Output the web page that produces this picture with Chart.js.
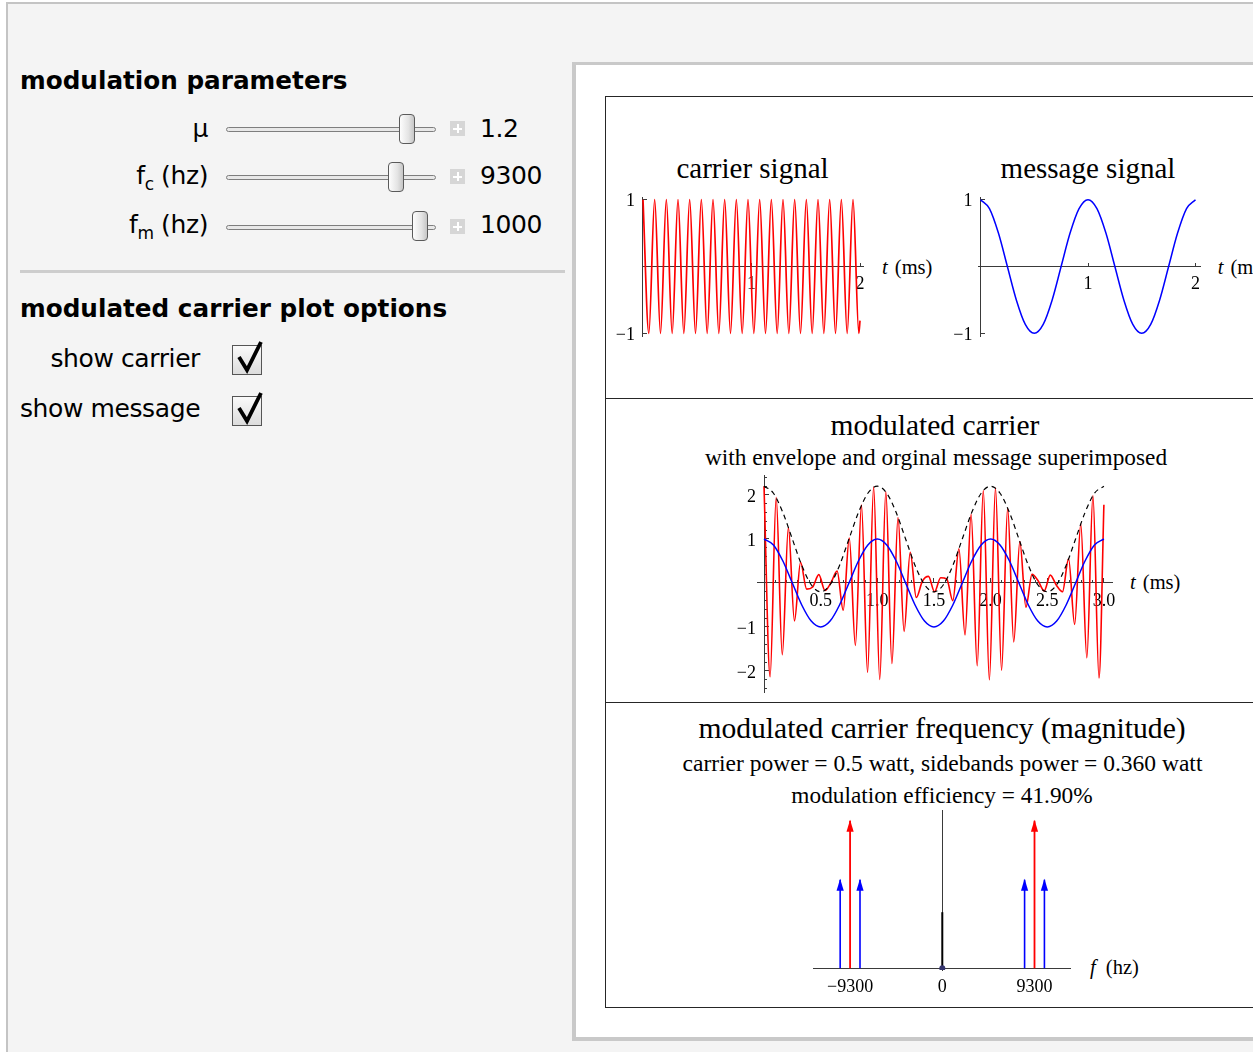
<!DOCTYPE html>
<html>
<head>
<meta charset="utf-8">
<title>amplitude modulation</title>
<script src="https://cdn.jsdelivr.net/npm/chart.js@4.4.1/dist/chart.umd.min.js"></script>
<style>
  html, body { margin: 0; padding: 0; }
  body { position: relative; width: 1253px; height: 1052px; overflow: hidden; background: #fff; }
  .abs { position: absolute; box-sizing: border-box; }
  .frame { left: 6px; top: 2px; width: 1300px; height: 1100px; border-left: 2px solid #c4c4c4; border-top: 2px solid #c4c4c4; background: #f4f4f4; }
  .ui { position: absolute; font-family: "DejaVu Sans", sans-serif; font-size: 25px; line-height: 1; white-space: nowrap; letter-spacing: -0.4px; color: #000; }
  .head { font-weight: bold; font-size: 24.7px; letter-spacing: 0; left: 20px; }
  .lbl { left: 60px; width: 148px; text-align: right; }
  .val { left: 480px; }
  .sub { font-size: 17px; position: relative; top: 6px; }
  .track { position: absolute; left: 226px; width: 210px; height: 5px; box-sizing: border-box; border: 1px solid #7e7e7e; border-radius: 3px; background: #e8e8e8; }
  .thumb { position: absolute; width: 16px; height: 30px; box-sizing: border-box; border: 1px solid #5a5a5a; border-radius: 4px; background: linear-gradient(to right, #fdfdfd, #e4e4e4 60%, #c6c6c6); }
  .plus { position: absolute; left: 450px; width: 15px; height: 15px; background: #d6d6d6; }
  .plus:before, .plus:after { content: ""; position: absolute; background: #fff; }
  .plus:before { left: 3px; top: 6.5px; width: 9px; height: 2px; }
  .plus:after { left: 6.5px; top: 3px; width: 2px; height: 9px; }
  .sep { left: 20px; top: 270px; width: 545px; height: 3px; background: #cdcdcd; }
  .cb { position: absolute; left: 232px; width: 30px; height: 30px; box-sizing: border-box; border: 1.5px solid #555; background: linear-gradient(#fafafa, #dcdcdc); }
  .panel { left: 572px; top: 62px; width: 720px; height: 979px; border-left: 4px solid #c9c9c9; border-top: 3px solid #c9c9c9; border-bottom: 4px solid #c9c9c9; background: #fff; }
  .box { left: 605px; top: 96px; width: 700px; height: 912px; border: 1px solid #262626; }
  .hr { left: 605px; width: 700px; height: 1px; background: #262626; }
  .serif { position: absolute; font-family: "Liberation Serif", "Times New Roman", serif; line-height: 1; white-space: nowrap; color: #000; text-align: center; width: 700px; }
  .axl { position: absolute; font-family: "Liberation Serif", "Times New Roman", serif; font-size: 20.5px; line-height: 1; white-space: nowrap; color: #000; word-spacing: 2px; }
  canvas { position: absolute; }
</style>
</head>
<body>
<div class="abs frame"></div>

<!-- control panel -->
<div class="ui head" style="top:68.6px">modulation parameters</div>

<div class="ui lbl" style="top:115.5px">μ</div>
<div class="track" style="top:126.5px"></div>
<div class="thumb" style="left:399px;top:114px"></div>
<div class="plus" style="top:121px"></div>
<div class="ui val" style="top:115.5px">1.2</div>

<div class="ui lbl" style="top:163.2px">f<span class="sub">c</span> (hz)</div>
<div class="track" style="top:174.5px"></div>
<div class="thumb" style="left:388px;top:162px"></div>
<div class="plus" style="top:169px"></div>
<div class="ui val" style="top:163.2px">9300</div>

<div class="ui lbl" style="top:211.9px">f<span class="sub">m</span> (hz)</div>
<div class="track" style="top:224.5px"></div>
<div class="thumb" style="left:412px;top:211px"></div>
<div class="plus" style="top:219px"></div>
<div class="ui val" style="top:211.9px">1000</div>

<div class="abs sep"></div>
<div class="ui head" style="top:297.1px">modulated carrier plot options</div>

<div class="ui lbl" style="top:345.5px;left:20px;width:180px">show carrier</div>
<div class="cb" style="top:345px"></div>
<svg class="abs" style="left:228px;top:336px" width="40" height="44"><path d="M11 21 L19 34 L33 6" fill="none" stroke="#000" stroke-width="3.8"/></svg>
<div class="ui lbl" style="top:396.2px;left:20px;width:180px">show message</div>
<div class="cb" style="top:396px"></div>
<svg class="abs" style="left:228px;top:387px" width="40" height="44"><path d="M11 21 L19 34 L33 6" fill="none" stroke="#000" stroke-width="3.8"/></svg>

<!-- plot panel -->
<div class="abs panel"></div>
<div class="abs box"></div>
<div class="abs hr" style="top:398px"></div>
<div class="abs hr" style="top:702px"></div>

<div class="serif" style="left:402.5px;top:153.7px;font-size:29px">carrier signal</div>
<div class="serif" style="left:738px;top:153.7px;font-size:29px">message signal</div>
<div class="axl" style="left:882px;top:256.8px"><i>t</i> (ms)</div>
<div class="axl" style="left:1217.7px;top:256.8px"><i>t</i> (ms)</div>

<div class="serif" style="left:585px;top:410.8px;font-size:29.5px">modulated carrier</div>
<div class="serif" style="left:586px;top:445.5px;font-size:23.3px">with envelope and orginal message superimposed</div>
<div class="axl" style="left:1130px;top:571.8px"><i>t</i> (ms)</div>

<div class="serif" style="left:592px;top:713.8px;font-size:29.6px">modulated carrier frequency (magnitude)</div>
<div class="serif" style="left:592.5px;top:752px;font-size:23.5px">carrier power = 0.5 watt, sidebands power = 0.360 watt</div>
<div class="serif" style="left:592px;top:784px;font-size:23.3px">modulation efficiency = 41.90%</div>
<div class="axl" style="left:1090px;top:957.3px;word-spacing:5px"><i>f</i> (hz)</div>

<canvas id="carrierChart" width="270" height="190" style="left:612px;top:180px"></canvas>
<canvas id="messageChart" width="272" height="190" style="left:948px;top:180px"></canvas>
<canvas id="modChart" width="405" height="250" style="left:727px;top:460px"></canvas>
<canvas id="specChart" width="297" height="205" style="left:793px;top:798px"></canvas>

<script>
// carrier signal, f_c = 9300 hz: peaks and troughs (t in ms)
const carrierT = [0, 0.0538, 0.1075, 0.1613, 0.2151, 0.2688, 0.3226, 0.3763, 0.4301, 0.4839,
  0.5376, 0.5914, 0.6452, 0.6989, 0.7527, 0.8065, 0.8602, 0.9140, 0.9677, 1.0215,
  1.0753, 1.1290, 1.1828, 1.2366, 1.2903, 1.3441, 1.3978, 1.4516, 1.5054, 1.5591,
  1.6129, 1.6667, 1.7204, 1.7742, 1.8280, 1.8817, 1.9355, 1.9892, 2.0];
const carrierV = [1, -1, 1, -1, 1, -1, 1, -1, 1, -1, 1, -1, 1, -1, 1, -1, 1, -1, 1, -1,
  1, -1, 1, -1, 1, -1, 1, -1, 1, -1, 1, -1, 1, -1, 1, -1, 1, -1, -0.81];

// message signal, f_m = 1000 hz
const msgT = [0, 0.0833, 0.1667, 0.25, 0.3333, 0.4167, 0.5, 0.5833, 0.6667, 0.75, 0.8333, 0.9167,
  1.0, 1.0833, 1.1667, 1.25, 1.3333, 1.4167, 1.5, 1.5833, 1.6667, 1.75, 1.8333, 1.9167,
  2.0, 2.0833, 2.1667, 2.25, 2.3333, 2.4167, 2.5, 2.5833, 2.6667, 2.75, 2.8333, 2.9167, 3.0];
const msgV = [1, 0.866, 0.5, 0, -0.5, -0.866, -1, -0.866, -0.5, 0, 0.5, 0.866,
  1, 0.866, 0.5, 0, -0.5, -0.866, -1, -0.866, -0.5, 0, 0.5, 0.866,
  1, 0.866, 0.5, 0, -0.5, -0.866, -1, -0.866, -0.5, 0, 0.5, 0.866, 1];
// envelope (dashed), same sample times
const envV = [2.2, 2.04, 1.6, 1.0, 0.4, -0.04, -0.2, -0.04, 0.4, 1.0, 1.6, 2.04,
  2.2, 2.04, 1.6, 1.0, 0.4, -0.04, -0.2, -0.04, 0.4, 1.0, 1.6, 2.04,
  2.2, 2.04, 1.6, 1.0, 0.4, -0.04, -0.2, -0.04, 0.4, 1.0, 1.6, 2.04, 2.2];

// modulated carrier, mu = 1.2: swing peaks
const modT = [0, 0.0538, 0.1075, 0.1613, 0.2151, 0.2688, 0.3226, 0.3763, 0.4301, 0.4839,
  0.5376, 0.5914, 0.6452, 0.6989, 0.7527, 0.8065, 0.8602, 0.9140, 0.9677, 1.0215,
  1.0753, 1.1290, 1.1828, 1.2366, 1.2903, 1.3441, 1.3978, 1.4516, 1.5054, 1.5591,
  1.6129, 1.6667, 1.7204, 1.7742, 1.8280, 1.8817, 1.9355, 1.9892, 2.0430, 2.0968,
  2.1505, 2.2043, 2.2581, 2.3118, 2.3656, 2.4194, 2.4731, 2.5269, 2.5806, 2.6344,
  2.6882, 2.7419, 2.7957, 2.8495, 2.9032, 2.9570, 3.0];
const modV = [2.20, -2.13, 1.94, -1.63, 1.26, -0.86, 0.47, -0.14, -0.09, 0.19,
  -0.17, 0.01, 0.27, -0.62, 1.02, -1.42, 1.77, -2.03, 2.18, -2.19,
  2.07, -1.83, 1.49, -1.10, 0.70, -0.33, 0.04, 0.15, -0.20, 0.12,
  0.09, -0.40, 0.78, -1.18, 1.56, -1.88, 2.10, -2.20, 2.16, -1.98,
  1.70, -1.34, 0.94, -0.55, 0.20, 0.05, -0.18, 0.18, -0.05, -0.20,
  0.55, -0.94, 1.34, -1.70, 1.98, -2.16, 1.78];

// spectrum (hz, magnitude)
const carrierF = [-9300, 9300];
const carrierMag = [0.5, 0.5];
const sideF = [-10300, -8300, 8300, 10300];
const sideMag = [0.3, 0.3, 0.3, 0.3];
const zeroF = [0];
const zeroMag = [0.19];

// ticks
const sigXTicks = [1, 2];
const sigXLabels = ['1', '2'];
const sigYTicks = [-1, 1];
const sigYLabels = ['\u22121', '1'];
const modXTicks = [0.5, 1.0, 1.5, 2.0, 2.5, 3.0];
const modXLabels = ['0.5', '1.0', '1.5', '2.0', '2.5', '3.0'];
const modXMinor = [0.1, 0.2, 0.3, 0.4, 0.6, 0.7, 0.8, 0.9, 1.1, 1.2, 1.3, 1.4, 1.6, 1.7, 1.8, 1.9,
  2.1, 2.2, 2.3, 2.4, 2.6, 2.7, 2.8, 2.9];
const modYTicks = [-2, -1, 1, 2];
const modYLabels = ['\u22122', '\u22121', '1', '2'];
const modYMinor = [-2.4, -2.2, -1.8, -1.6, -1.4, -1.2, -0.8, -0.6, -0.4, -0.2,
  0.2, 0.4, 0.6, 0.8, 1.2, 1.4, 1.6, 1.8, 2.2, 2.4];
const specXTicks = [-9300, 0, 9300];
const specXLabels = ['\u22129300', '0', '9300'];

const AXIS = '#3a3a3a';
const RED = '#ff0000';
const BLUE = '#0000ff';
const TICK_FONT = { family: 'Liberation Serif', size: 18 };

function fixedTicks(values) {
  return scale => { scale.ticks = values.map(v => ({ value: v })); };
}

// axis drawn through the origin, Mathematica style: ticks point inward
function mainAxis(dir, min, max, ticks, labels, tickLen, pad) {
  const other = dir === 'x' ? 'y' : 'x';
  return {
    type: 'linear', min, max,
    position: { [other]: 0 },
    border: { display: true, color: AXIS, width: 1 },
    grid: { drawOnChartArea: false, drawTicks: tickLen !== 0, tickLength: -tickLen, color: AXIS, lineWidth: 1 },
    ticks: {
      display: labels !== null, autoSkip: false, maxRotation: 0, padding: pad,
      labelOffset: dir === 'y' ? 2 : 0,
      color: '#000', font: TICK_FONT,
      callback: (v, i) => dir === 'y' ? labels[i] + ' \u2009' : labels[i]
    },
    afterBuildTicks: fixedTicks(ticks)
  };
}

function minorAxis(dir, min, max, ticks, tickLen) {
  const other = dir === 'x' ? 'y' : 'x';
  return {
    type: 'linear', min, max,
    position: { [other]: 0 },
    border: { display: false },
    grid: { drawOnChartArea: false, tickLength: -tickLen, color: AXIS, lineWidth: 1 },
    ticks: { display: false },
    afterBuildTicks: fixedTicks(ticks)
  };
}

function pts(xs, ys) {
  return xs.map((x, i) => ({ x, y: ys[i] }));
}

function stems(fs, mags) {
  return fs.flatMap((f, i) => [{ x: f, y: 0 }, { x: f, y: mags[i] }, { x: f, y: null }]);
}

function curve(data, color, width, dash) {
  return {
    data, borderColor: color, borderWidth: width, borderDash: dash || [],
    pointRadius: 0, cubicInterpolationMode: 'monotone', fill: false
  };
}

// filled arrow heads on top of the spectrum stems
const arrowHeads = {
  id: 'arrowHeads',
  afterDatasetsDraw(chart) {
    const ctx = chart.ctx;
    chart.data.datasets.forEach((ds, i) => {
      if (!ds.arrowTips) return;
      const meta = chart.getDatasetMeta(i);
      ctx.save();
      ctx.fillStyle = ds.borderColor;
      meta.data.forEach((pt, j) => {
        if (j % 3 !== 1) return;
        ctx.beginPath();
        ctx.moveTo(pt.x, pt.y - 1);
        ctx.lineTo(pt.x - 3.6, pt.y + 11);
        ctx.lineTo(pt.x + 3.6, pt.y + 11);
        ctx.closePath();
        ctx.fill();
      });
      ctx.restore();
    });
  }
};

function plot(id, scales, datasets, padding) {
  return new Chart(document.getElementById(id), {
    type: 'line',
    data: { datasets },
    options: {
      responsive: false,
      animation: false,
      devicePixelRatio: 1,
      events: [],
      layout: { padding },
      plugins: { legend: { display: false }, tooltip: { enabled: false } },
      scales
    },
    plugins: [arrowHeads]
  });
}

plot('carrierChart', {
  x: mainAxis('x', -0.0092, 2.0276, sigXTicks, sigXLabels, 4, 11),
  y: mainAxis('y', -1.04, 1.04, sigYTicks, sigYLabels, 5, 0)
}, [
  curve(pts(carrierT, carrierV), RED, 1.7)
], { left: 30, right: 19, top: 17, bottom: 34 });

plot('messageChart', {
  x: mainAxis('x', -0.0233, 2.0419, sigXTicks, sigXLabels, 4, 11),
  y: mainAxis('y', -1.04, 1.04, sigYTicks, sigYLabels, 5, 0)
}, [
  curve(pts(msgT.slice(0, 25), msgV.slice(0, 25)), BLUE, 1.5)
], { left: 30, right: 20, top: 17, bottom: 34 });

plot('modChart', {
  x: mainAxis('x', -0.0618, 3.0715, modXTicks, modXLabels, 5, 12),
  xm: minorAxis('x', -0.0618, 3.0715, modXMinor, 3),
  y: mainAxis('y', -2.4773, 2.4545, modYTicks, modYLabels, 5, 0),
  ym: minorAxis('y', -2.4773, 2.4545, modYMinor, 3)
}, [
  curve(pts(msgT, envV), '#000', 1.2, [5, 4]),
  curve(pts(msgT, msgV), BLUE, 1.5),
  curve(pts(modT, modV), RED, 1.6)
], { left: 30, right: 20, top: 15, bottom: 18 });

plot('specChart', {
  x: mainAxis('x', -13040, 12880, specXTicks, specXLabels, 0, 8),
  y: mainAxis('y', -0.0058, 0.5362, [], null, 0, 0)
}, [
  { data: pts(zeroF, [0]), showLine: false, pointRadius: 3, pointBackgroundColor: '#35356e', pointBorderWidth: 0 },
  { data: stems(carrierF, carrierMag), borderColor: RED, borderWidth: 1.8, pointRadius: 0, arrowTips: true },
  { data: stems(sideF, sideMag), borderColor: BLUE, borderWidth: 1.6, pointRadius: 0, arrowTips: true },
  { data: stems(zeroF, zeroMag), borderColor: '#000', borderWidth: 2, pointRadius: 0 }
], { left: 20, right: 20, top: 12, bottom: 33 });
</script>
</body>
</html>
